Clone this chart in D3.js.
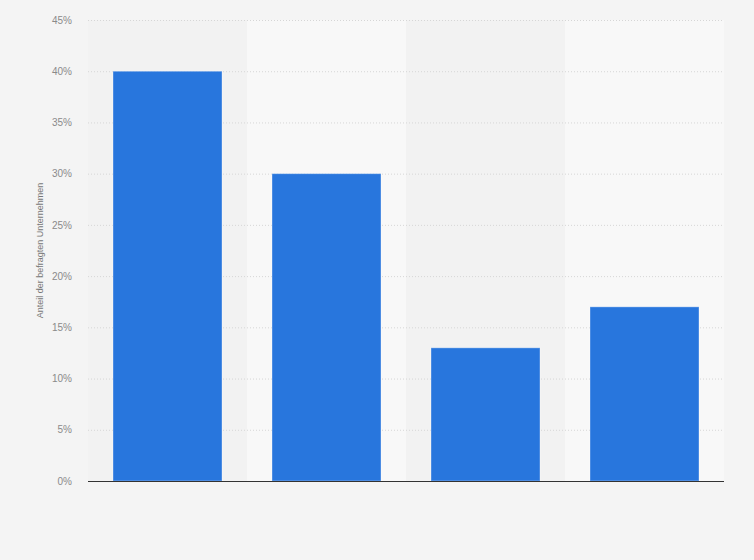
<!DOCTYPE html>
<html>
<head>
<meta charset="utf-8">
<script src="https://cdn.jsdelivr.net/npm/d3@7"></script>
<style>
  body { margin: 0; background: #f4f4f4; }
  svg { display: block; }
</style>
</head>
<body>
<svg></svg>
<script>
// data (no category labels shown in the original)
var categories = ["Kategorie 1", "Kategorie 2", "Kategorie 3", "Kategorie 4"];
var values = [40, 30, 13, 17];
var yTicks = [0, 5, 10, 15, 20, 25, 30, 35, 40, 45];
var yLabel = "Anteil der befragten Unternehmen";

var screen = {width: 754, height: 560};
var margin = {top: 20, right: 30, bottom: 79, left: 88};
var plotW = screen.width - margin.left - margin.right;
var plotH = screen.height - margin.top - margin.bottom;

var svg = d3.select("svg")
    .attr("width", screen.width)
    .attr("height", screen.height);

var g = svg.append("g")
    .attr("transform", "translate(" + margin.left + "," + margin.top + ")");

var xScale = d3.scaleBand()
    .domain(categories)
    .range([0, plotW])
    .paddingInner(0)
    .paddingOuter(0);

var yScale = d3.scaleLinear()
    .domain([0, 45])
    .range([plotH, 0]);

// alternating background bands
g.selectAll("rect.band")
    .data(categories)
    .enter()
    .append("rect")
    .attr("class", "band")
    .attr("x", function(d){return xScale(d)})
    .attr("y", 0)
    .attr("width", xScale.bandwidth())
    .attr("height", plotH)
    .attr("fill", function(d, i){return i % 2 == 0 ? "#f2f2f2" : "#f8f8f8"});

// grid lines + tick labels
var yAxis = d3.axisLeft(yScale)
    .tickValues(yTicks)
    .tickSize(-plotW)
    .tickPadding(16)
    .tickFormat(function(d){return d + "%"});

var yG = g.append("g").call(yAxis);
yG.select(".domain").remove();
yG.selectAll(".tick line")
    .attr("stroke", "#d6d6d6")
    .attr("stroke-dasharray", "1,2");
yG.selectAll(".tick text")
    .attr("fill", "#8a8a8a")
    .attr("font-family", "Arial, 'Liberation Sans', sans-serif")
    .attr("font-size", 10);

// bars
var barPad = 25;
g.selectAll("rect.bar")
    .data(values)
    .enter()
    .append("rect")
    .attr("class", "bar")
    .attr("x", function(d, i){return xScale(categories[i]) + barPad})
    .attr("y", function(d){return yScale(d)})
    .attr("width", xScale.bandwidth() - 2 * barPad)
    .attr("height", function(d){return plotH - yScale(d)})
    .attr("fill", "#2876dd")
    .attr("stroke", "#ffffff")
    .attr("stroke-opacity", 0.35)
    .attr("stroke-width", 1);

// baseline
g.append("line")
    .attr("x1", 0)
    .attr("x2", plotW)
    .attr("y1", plotH + 0.5)
    .attr("y2", plotH + 0.5)
    .attr("stroke", "#333")
    .attr("stroke-width", 1);

// y axis title
svg.append("text")
    .attr("transform", "translate(43," + (margin.top + plotH / 2) + ") rotate(-90)")
    .attr("text-anchor", "middle")
    .attr("fill", "#777")
    .attr("font-family", "Arial, 'Liberation Sans', sans-serif")
    .attr("font-size", 9)
    .text(yLabel);
</script>
</body>
</html>
